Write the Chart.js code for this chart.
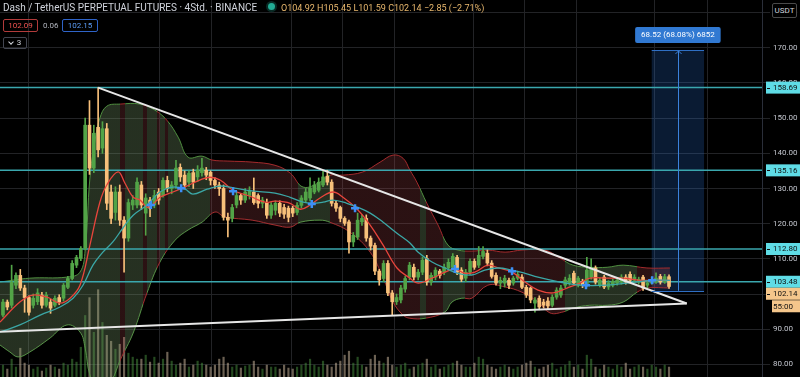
<!DOCTYPE html>
<html>
<head>
<meta charset="utf-8">
<script src="https://cdn.jsdelivr.net/npm/chart.js@4.4.1/dist/chart.umd.min.js"></script>
<style>
  html, body { margin: 0; padding: 0; background: #000; }
  #wrap { position: relative; width: 800px; height: 377px; overflow: hidden; font-family: Roboto, "Noto Sans", sans-serif; }
  #myChart { position: absolute; left: 0; top: 0; }
  .txt { position: absolute; white-space: nowrap; line-height: 12px; }
  .title { left: 3px; top: 2px; font-size: 10px; color: #d1d4dc; }
  .dot { position: absolute; left: 268px; top: 3px; width: 7px; height: 7px; border-radius: 50%; background: #22ab94; box-shadow: 0 0 0 2px rgba(34,171,148,0.25); }
  .ohlc { left: 281px; top: 2px; font-size: 9px; color: #e9b86e; }
  .tagbox { position: absolute; box-sizing: border-box; border-radius: 2px; font-size: 8px; line-height: 11px; text-align: center; }
  .red { left: 3px; top: 19px; width: 35px; height: 13px; border: 1px solid #b23b3b; color: #ef5350; }
  .blue { left: 62px; top: 19px; width: 36px; height: 13px; border: 1px solid #2f64c8; color: #5b9cf6; }
  .spread { left: 43px; top: 20px; font-size: 8px; color: #b2b5be; }
  .legend { left: 3px; top: 37px; width: 24px; height: 12px; border: 1px solid #434651; color: #d1d4dc; line-height: 10px; }
  .chev { display: inline-block; width: 3px; height: 3px; border-right: 1px solid #d1d4dc; border-bottom: 1px solid #d1d4dc; transform: rotate(45deg); margin: 0 4px 2px 0; vertical-align: middle; }
  .usdt { left: 772px; top: 3px; width: 25px; height: 15px; border: 1px solid #4a4a4a; color: #d1d4dc; background: #000; line-height: 13px; }
</style>
</head>
<body>
<div id="wrap">
  <canvas id="myChart" width="800" height="377"></canvas>
  <div class="txt title">Dash / TetherUS PERPETUAL FUTURES · 4Std. · BINANCE</div>
  <div class="dot"></div>
  <div class="txt ohlc">O104.92 H105.45 L101.59 C102.14 −2.85 (−2.71%)</div>
  <div class="tagbox red">102.09</div>
  <div class="txt spread">0.06</div>
  <div class="tagbox blue">102.15</div>
  <div class="tagbox legend"><span class="chev"></span>3</div>
  <div class="tagbox usdt">USDT</div>
</div>
<script>
// 4h candles, index 0 = first visible candle
const opens = [
  94.0, 97.7, 96.8, 102.5, 105.3, 101.7, 99.0, 96.8, 97.8, 99.7,
  96.8, 97.7, 96.8, 99.0, 98.8, 101.9, 104.4, 108.2, 110.1, 113.0,
  148.0, 135.8, 147.4, 141.5, 147.0, 129.0, 123.2, 129.0, 121.0, 115.9,
  125.3, 125.3, 131.0, 123.0, 126.7, 125.3, 129.0, 128.0, 132.3, 130.0,
  131.0, 136.0, 133.8, 131.8, 134.5, 133.3, 134.5, 135.2, 134.6, 132.3,
  131.0, 130.0, 121.8, 121.5, 125.3, 128.0, 126.7, 128.0, 129.0, 128.0,
  125.8, 126.0, 122.4, 123.8, 125.8, 124.6, 124.4, 124.4, 123.2, 125.2,
  126.7, 127.3, 129.0, 129.5, 131.0, 133.5, 131.8, 125.8, 124.6, 121.5,
  120.5, 114.8, 116.2, 120.5, 121.5, 115.9, 113.8, 106.5, 104.4, 108.7,
  100.3, 97.8, 98.3, 101.4, 104.8, 107.6, 104.8, 106.2, 110.1, 103.4,
  104.8, 106.5, 106.2, 107.4, 107.6, 110.4, 106.8, 104.5, 106.2, 109.3,
  108.2, 110.7, 111.6, 108.8, 105.3, 103.1, 103.1, 103.9, 103.1, 104.5,
  104.8, 101.9, 101.7, 97.4, 98.8, 97.7, 98.0, 96.8, 99.1, 99.7,
  102.5, 103.1, 105.9, 102.5, 103.6, 102.5, 104.8, 107.4, 102.5, 104.8,
  102.0, 102.5, 103.1, 103.4, 104.8, 105.6, 103.9, 103.4, 104.8, 102.5,
  103.1, 103.4, 105.0, 103.4, 104.92
]
const highs = [
  98.5, 98.3, 108.2, 106.0, 107.0, 102.5, 99.5, 100.0, 101.5, 100.5,
  100.5, 98.5, 99.5, 99.8, 103.0, 105.0, 109.5, 111.0, 113.5, 150.0,
  155.0, 148.0, 158.69, 149.0, 148.5, 131.0, 130.5, 131.0, 122.0, 127.0,
  128.0, 133.0, 132.0, 128.5, 127.5, 129.5, 130.0, 133.0, 133.5, 132.0,
  138.0, 137.0, 135.0, 135.0, 135.5, 136.5, 138.6, 136.0, 135.0, 133.0,
  131.8, 131.0, 123.0, 125.5, 129.0, 128.5, 130.0, 130.5, 133.0, 128.5,
  127.5, 127.0, 126.0, 126.5, 126.5, 125.5, 125.0, 125.0, 126.0, 128.0,
  130.0, 133.0, 132.0, 133.0, 135.0, 135.2, 132.5, 126.5, 125.0, 122.0,
  121.0, 117.5, 123.0, 122.5, 122.5, 116.5, 114.5, 107.0, 109.5, 109.5,
  101.0, 100.0, 102.5, 105.0, 109.0, 108.5, 107.0, 110.5, 111.0, 106.0,
  107.5, 107.0, 108.5, 110.0, 111.5, 111.0, 107.5, 107.0, 110.0, 110.0,
  113.5, 113.5, 112.5, 109.5, 106.0, 104.8, 105.3, 104.5, 105.0, 106.5,
  105.5, 102.5, 102.0, 99.0, 99.5, 98.5, 99.0, 99.8, 101.8, 102.5,
  104.8, 105.5, 106.5, 105.0, 104.2, 110.4, 110.0, 108.0, 104.5, 105.3,
  103.8, 104.2, 104.5, 105.5, 105.5, 106.3, 105.5, 104.8, 105.3, 103.9,
  104.8, 106.0, 105.6, 105.6, 105.45
]
const lows = [
  93.5, 95.5, 96.0, 101.5, 101.0, 94.8, 94.0, 96.0, 97.0, 96.0,
  96.3, 94.5, 96.3, 97.0, 98.0, 101.5, 104.0, 107.5, 109.5, 112.5,
  134.0, 134.5, 139.0, 140.0, 124.0, 120.0, 121.0, 119.5, 106.2, 115.0,
  124.0, 124.5, 124.0, 116.7, 122.0, 124.5, 125.5, 127.5, 129.0, 128.5,
  130.0, 132.0, 130.0, 130.5, 130.0, 132.0, 133.5, 132.5, 131.0, 130.0,
  128.0, 121.0, 116.2, 120.5, 124.5, 125.5, 126.0, 127.0, 125.5, 124.5,
  124.5, 121.5, 121.5, 122.5, 122.0, 121.5, 120.5, 122.0, 122.5, 124.5,
  126.0, 126.5, 128.5, 129.0, 130.5, 131.0, 125.0, 123.5, 120.5, 119.5,
  111.6, 113.5, 115.5, 119.5, 115.0, 112.5, 105.5, 102.5, 103.5, 99.5,
  94.0, 97.0, 97.5, 100.5, 104.0, 104.0, 104.0, 105.5, 102.5, 102.5,
  104.0, 104.5, 105.5, 106.8, 107.0, 105.5, 103.5, 103.5, 105.5, 107.0,
  107.5, 110.0, 108.0, 104.5, 102.5, 101.5, 102.0, 101.5, 102.5, 104.0,
  101.5, 99.0, 97.5, 94.8, 95.5, 96.0, 95.8, 96.3, 98.5, 99.0,
  101.8, 102.5, 102.5, 102.0, 101.8, 102.0, 104.2, 102.8, 102.0, 101.5,
  101.3, 102.0, 102.5, 102.8, 102.8, 103.3, 103.3, 102.8, 101.0, 101.8,
  102.8, 103.0, 102.8, 103.0, 101.59
]
const closes = [
  97.7, 96.3, 103.4, 105.3, 101.7, 99.0, 94.8, 98.8, 100.3, 96.8,
  99.7, 96.0, 98.8, 97.7, 102.5, 104.4, 108.7, 110.4, 113.0, 148.0,
  135.8, 145.7, 141.0, 147.0, 125.8, 121.5, 129.0, 121.0, 115.9, 126.0,
  126.7, 131.8, 125.3, 127.3, 124.4, 128.0, 126.7, 132.3, 130.0, 131.0,
  135.8, 133.3, 131.0, 134.3, 131.8, 135.2, 135.8, 133.8, 132.3, 131.0,
  130.0, 121.8, 121.0, 124.6, 128.0, 126.7, 129.0, 129.5, 126.0, 125.8,
  126.7, 122.4, 125.3, 125.8, 123.0, 122.7, 121.8, 123.0, 125.2, 127.3,
  129.0, 130.1, 131.0, 131.8, 133.3, 131.8, 125.8, 124.4, 121.5, 120.1,
  114.8, 116.7, 121.0, 121.5, 115.9, 113.6, 106.5, 104.0, 108.7, 100.3,
  97.8, 99.0, 101.7, 104.4, 108.2, 104.8, 106.2, 109.6, 103.4, 105.3,
  106.8, 105.3, 107.6, 109.0, 110.7, 106.2, 104.2, 106.2, 109.3, 107.6,
  111.0, 112.1, 108.8, 105.0, 103.1, 103.9, 104.5, 102.5, 104.5, 105.6,
  101.9, 99.7, 98.3, 98.3, 96.3, 96.8, 96.6, 99.1, 101.1, 101.7,
  104.0, 104.5, 103.1, 104.5, 102.5, 106.8, 107.4, 103.4, 103.9, 102.0,
  103.1, 103.6, 103.9, 104.8, 103.4, 103.9, 104.8, 104.2, 101.7, 103.1,
  103.9, 104.5, 103.4, 104.92, 102.14
]
const volumes = [
  12, 8, 18, 10, 29, 14, 12, 8, 10, 6, 9, 12, 10, 8, 14, 12, 18, 15,
  30, 62, 80, 45, 88, 55, 42, 36, 28, 33, 40, 24, 20, 18,
  18, 22, 15, 20, 14, 18, 25, 16, 12, 14, 18, 10, 12, 16, 14, 12, 10, 12, 18, 20, 14, 10, 12, 9, 11, 12, 16, 10, 8, 12, 10,
  10, 8, 12, 9, 8, 10, 12, 14, 18, 12, 10, 16, 12, 10, 14, 16, 22, 26, 14, 20, 12, 10, 18, 22, 16, 14, 20, 12, 10, 12, 14,
  8, 10, 12, 14, 18, 10, 12, 8, 10, 12, 14, 16, 12, 10, 10, 14, 20, 18, 12, 10, 8, 10, 12, 10, 8, 10, 12, 14, 16, 10, 8,
  10, 12, 14, 8, 10, 12, 16, 10, 12, 8, 22, 18, 10, 8, 12, 10, 8, 12, 10, 14, 8, 10, 12, 10, 8, 12, 10, 8, 12, 10
]

// indicator readings: [candle index, price]
const upperBand = [
  [-0.69, 103.4], [6.2, 104.5], [14.8, 104.8], [17.8, 106.2], [19.0, 112.5], [20.1, 133.0],
  [21.3, 143.8], [22.4, 150.0], [24.0, 153.4], [27.1, 154.0], [31.7, 154.0], [35.1, 152.3],
  [37.9, 149.4], [40.5, 144.6], [42.8, 138.9], [46.0, 139.2], [48.3, 138.1], [52.0, 137.8],
  [57.6, 137.5], [62.9, 136.6], [66.4, 134.4], [69.4, 130.4], [73.3, 131.8], [75.6, 133.8],
  [78.6, 133.8], [83.2, 134.7], [87.2, 137.5], [90.2, 139.5], [92.5, 138.6], [94.1, 135.2],
  [95.7, 131.8], [98.0, 125.8], [100.6, 119.6], [102.9, 113.9], [105.2, 112.5], [108.4, 112.2],
  [112.1, 112.5], [116.1, 111.9], [120.0, 112.5], [125.3, 112.5], [128.8, 110.2], [131.8, 108.2],
  [135.7, 107.6], [139.7, 107.6], [143.4, 108.2], [148.9, 107.4], [154.2, 107.4]
]
const lowerBand = [
  [-0.69, 85.5], [1.6, 83.5], [3.5, 82.1], [6.2, 83.5], [10.9, 87.5], [14.8, 91.2],
  [17.8, 89.2], [19.0, 84.6], [20.1, 76.9], [22.4, 71.3], [25.2, 75.5], [27.1, 81.2],
  [30.1, 88.9], [33.3, 100.3], [36.3, 109.1], [39.8, 115.3], [42.8, 118.2], [46.0, 120.4],
  [49.0, 123.3], [51.3, 121.9], [57.6, 121.0], [62.9, 119.6], [66.4, 119.0], [68.7, 120.4],
  [73.3, 121.0], [75.6, 120.4], [80.2, 117.6], [84.9, 111.9], [87.9, 104.5], [90.2, 97.7],
  [92.5, 94.0], [94.1, 93.1], [97.6, 93.1], [102.2, 94.9], [103.8, 97.7], [106.1, 98.8],
  [108.4, 98.8], [112.1, 102.5], [116.1, 102.0], [120.0, 100.5], [123.7, 97.7], [126.5, 94.6],
  [129.5, 94.9], [131.8, 96.0], [135.7, 96.8], [139.7, 96.8], [143.4, 97.7], [146.6, 100.5],
  [148.9, 101.7], [154.2, 101.7]
]
const fastMa = [
  [-0.69, 92.0], [3.9, 97.7], [6.9, 99.7], [10.2, 99.1], [13.2, 97.4], [15.5, 98.8],
  [17.8, 102.5], [20.1, 113.9], [22.4, 126.1], [24.0, 131.0], [26.6, 134.7], [28.2, 131.5],
  [30.1, 127.5], [31.7, 126.7], [33.3, 124.7], [34.5, 125.3], [36.3, 127.5], [39.3, 129.0],
  [42.5, 130.7], [45.5, 132.4], [47.9, 133.2], [50.2, 132.4], [53.2, 129.5], [57.1, 127.8],
  [60.6, 126.1], [62.9, 126.4], [66.4, 125.8], [68.7, 124.1], [71.0, 125.3], [73.3, 127.3],
  [76.3, 129.0], [78.6, 127.5], [81.9, 124.1], [84.9, 119.6], [87.9, 113.9], [91.1, 107.4],
  [94.1, 104.5], [96.0, 103.1], [99.2, 104.5], [102.2, 106.2], [104.5, 107.1], [106.8, 105.9],
  [109.1, 106.2], [112.1, 108.2], [114.5, 107.4], [117.7, 106.2], [120.7, 103.4], [123.7, 101.1],
  [127.2, 100.3], [130.4, 101.7], [133.4, 103.1], [135.7, 104.5], [139.7, 104.5], [143.4, 104.5],
  [147.3, 103.9], [154.2, 103.9]
]
const slowMa = [
  [-0.69, 89.2], [3.9, 91.2], [8.6, 94.0], [13.2, 96.3], [16.2, 98.8], [18.5, 102.5],
  [20.8, 108.2], [23.1, 111.9], [25.4, 114.8], [27.7, 118.7], [30.1, 122.4], [33.3, 125.3],
  [36.3, 129.0], [39.3, 130.4], [42.1, 129.8], [43.9, 128.4], [47.2, 129.8], [50.2, 130.7],
  [53.6, 130.1], [57.6, 129.3], [62.9, 128.7], [66.4, 127.5], [69.4, 126.1], [71.4, 125.8],
  [74.0, 126.1], [76.3, 126.7], [79.5, 125.8], [81.9, 124.7], [84.9, 123.0], [87.9, 120.4],
  [91.1, 117.3], [94.1, 114.5], [96.0, 111.9], [99.2, 109.1], [102.2, 107.4], [105.2, 105.9],
  [108.4, 105.4], [111.4, 106.8], [114.5, 107.4], [117.7, 106.8], [120.7, 105.9], [123.7, 104.8],
  [128.8, 103.4], [133.4, 102.5], [139.7, 102.5], [144.3, 103.1], [150.1, 103.9], [154.2, 103.9]
]
const crosses = [
  [34.2, 125.3], [41.2, 130.1], [53.2, 129.2], [71.4, 125.6], [81.4, 124.4],
  [104.5, 107.1], [117.7, 106.5], [134.8, 102.5], [150.1, 103.9]
]
// band colour by stretch: [from index, to index, rising]
const bandTrend = [
  [-0.69, 27.05, true], [27.05, 28.2, false], [28.2, 32.4, true], [32.4, 33.3, false],
  [33.3, 35.6, true], [35.6, 36.3, false], [36.3, 37.5, true], [37.5, 38.2, false],
  [38.2, 47.9, true], [47.9, 68.2, false], [68.2, 75.6, true], [75.6, 96.4, false],
  [96.4, 97.8, true], [97.8, 101.7, false], [101.7, 106.8, true], [106.8, 129.9, false],
  [129.9, 146.6, true], [146.6, 175.5, false]
]

const levels = [158.69, 135.16, 112.80, 103.48]
const lastPrice = 102.14
const countdown = "55:00"
const trendUpper = [[22, 158.69], [158.1, 97.3]]
const trendLower = [[-0.69, 89.25], [158.1, 97.3]]
const measureX = [150.0, 162.1]
const measureY = [100.9, 169.4]
const measureLabel = "68.52 (68.08%) 6852"
const dayTicks = [6.0, 36.3, 48.3, 66.6, 78.6, 90.6, 108.7, 120.7, 132.7, 150.7, 162.8]
const priceTicks = [80, 90, 100, 110, 120, 130, 140, 150, 160, 170, 180]

const X_MIN = -0.69
const X_MAX = 175.5
const GREEN = "#52a447"
const ORANGE = "#f8c07a"

const pts = arr => arr.map(p => ({ x: p[0], y: p[1] }))
const isUp = i => closes[i] >= opens[i]

function bandPaint(chart, fill) {
  const area = chart.chartArea
  const xs = chart.scales.x
  const upC = fill ? "rgba(125,160,110,0.30)" : "#4f8f3f"
  const dnC = fill ? "rgba(170,70,75,0.25)" : "#a3292b"
  if (!area || !xs) return upC
  const g = chart.ctx.createLinearGradient(area.left, 0, area.right, 0)
  const pos = v => Math.min(1, Math.max(0, (xs.getPixelForValue(v) - area.left) / area.width))
  bandTrend.forEach(([a, b, rising]) => {
    const c = rising ? upC : dnC
    g.addColorStop(pos(a), c)
    g.addColorStop(pos(b), c)
  })
  return g
}

const overlay = {
  id: "overlay",
  beforeDatasetsDraw(chart) {
    const { ctx, scales: { x, y } } = chart
    const l = x.getPixelForValue(measureX[0])
    const r = x.getPixelForValue(measureX[1])
    const t = y.getPixelForValue(measureY[1])
    const b = y.getPixelForValue(measureY[0])
    ctx.save()
    ctx.fillStyle = "rgba(45,125,230,0.22)"
    ctx.fillRect(l, t, r - l, b - t)
    ctx.restore()
  },
  afterDatasetsDraw(chart) {
    const { ctx, scales: { x, y } } = chart
    const l = x.getPixelForValue(measureX[0])
    const r = x.getPixelForValue(measureX[1])
    const t = y.getPixelForValue(measureY[1])
    const b = y.getPixelForValue(measureY[0])
    const m = Math.round((l + r) / 2) + 0.5
    ctx.save()
    ctx.strokeStyle = "#2f6fc4"
    ctx.lineWidth = 1
    ctx.beginPath()
    ctx.moveTo(l, Math.round(t) + 0.5); ctx.lineTo(r, Math.round(t) + 0.5)
    ctx.moveTo(l, Math.round(b) + 0.5); ctx.lineTo(r, Math.round(b) + 0.5)
    ctx.stroke()
    ctx.strokeStyle = "#3b82dc"
    ctx.beginPath()
    ctx.moveTo(m, b); ctx.lineTo(m, t + 1)
    ctx.moveTo(m - 3, t + 4); ctx.lineTo(m, t + 1); ctx.lineTo(m + 3, t + 4)
    ctx.stroke()
    ctx.restore()
  },
  afterDraw(chart) {
    const { ctx, scales: { x, y } } = chart
    const l = x.getPixelForValue(measureX[0])
    const r = x.getPixelForValue(measureX[1])
    const t = y.getPixelForValue(measureY[1])
    const m = (l + r) / 2
    ctx.save()
    ctx.font = "8px Roboto"
    ctx.textBaseline = "middle"
    // measure label
    const w = ctx.measureText(measureLabel).width + 12
    ctx.fillStyle = "#3179d2"
    ctx.beginPath()
    ctx.roundRect(m - w / 2, t - 23, w, 16, 2)
    ctx.fill()
    ctx.fillStyle = "#ffffff"
    ctx.textAlign = "center"
    ctx.fillText(measureLabel, m, t - 14.5)
    // price tags on the axis
    ctx.textAlign = "left"
    const tag = (yc, text, bg, left) => {
      ctx.fillStyle = bg
      ctx.fillRect(left, yc - 6, 800 - left, 12)
      ctx.fillStyle = "#101010"
      if (left < 770) ctx.fillRect(767, Math.round(yc), 3, 1)
      ctx.fillText(text, 773, yc + 0.5)
    }
    levels.forEach(v => tag(y.getPixelForValue(v), v.toFixed(2), "#5fdce6", 766))
    const ly = Math.max(y.getPixelForValue(lastPrice), y.getPixelForValue(103.48) + 12)
    tag(ly, lastPrice.toFixed(2), "#f5c68b", 766)
    tag(ly + 12.5, countdown, "#f5c68b", 772)
    ctx.restore()
  }
}

const idx = closes.map((c, i) => i)

const ctx = document.getElementById("myChart").getContext("2d")
const myChart = new Chart(ctx, {
  type: "bar",
  data: {
    datasets: [
      {
        type: "line",
        data: pts(upperBand),
        borderColor: c => bandPaint(c.chart, false),
        backgroundColor: c => bandPaint(c.chart, true),
        borderWidth: 1,
        fill: "+1",
        tension: 0.4,
        pointRadius: 0,
        order: 9,
      },
      {
        type: "line",
        data: pts(lowerBand),
        borderColor: c => bandPaint(c.chart, false),
        borderWidth: 1,
        fill: false,
        tension: 0.4,
        pointRadius: 0,
        order: 9,
      },
      {
        type: "bar",
        yAxisID: "yv",
        data: idx.map(i => ({ x: i, y: volumes[i] })),
        backgroundColor: c => (isUp(c.dataIndex) ? "rgba(82,164,71,0.45)" : "rgba(240,215,185,0.45)"),
        barThickness: 1.5,
        grouped: false,
        order: 10,
      },
      ...levels.map(v => ({
        type: "line",
        data: [{ x: X_MIN, y: v }, { x: X_MAX, y: v }],
        borderColor: "#3aa7ae",
        borderWidth: 1.5,
        pointRadius: 0,
        order: 8,
      })),
      {
        type: "bar",
        data: idx.map(i => ({ x: i, y: [lows[i], highs[i]] })),
        backgroundColor: c => (isUp(c.dataIndex) ? GREEN : ORANGE),
        barThickness: 1,
        grouped: false,
        order: 4,
      },
      {
        type: "bar",
        data: idx.map(i => ({ x: i, y: [opens[i], closes[i]] })),
        backgroundColor: c => (isUp(c.dataIndex) ? GREEN : ORANGE),
        barThickness: 3,
        minBarLength: 1,
        grouped: false,
        order: 3,
      },
      {
        type: "line",
        data: pts(slowMa),
        borderColor: "#3ba7a6",
        borderWidth: 1.3,
        tension: 0.4,
        pointRadius: 0,
        order: 2,
      },
      {
        type: "line",
        data: pts(fastMa),
        borderColor: "#e8453c",
        borderWidth: 1.3,
        tension: 0.4,
        pointRadius: 0,
        order: 2,
      },
      {
        type: "line",
        data: pts(trendUpper),
        borderColor: "#e6e6e6",
        borderWidth: 2,
        pointRadius: 0,
        order: 1,
      },
      {
        type: "line",
        data: pts(trendLower),
        borderColor: "#e6e6e6",
        borderWidth: 2,
        pointRadius: 0,
        order: 1,
      },
      {
        type: "line",
        data: pts(crosses),
        showLine: false,
        pointStyle: "cross",
        pointRadius: 4,
        pointBorderWidth: 2.5,
        pointBorderColor: "#3d8ff5",
        order: 0,
      },
    ],
  },
  options: {
    responsive: false,
    animation: false,
    devicePixelRatio: 1,
    layout: { padding: 0, autoPadding: false },
    plugins: { legend: { display: false }, tooltip: { enabled: false } },
    scales: {
      x: {
        type: "linear",
        min: X_MIN,
        max: X_MAX,
        offset: false,
        afterBuildTicks: s => { s.ticks = dayTicks.map(v => ({ value: v })) },
        ticks: { display: false },
        grid: { color: "#222326", drawTicks: false, offset: false },
        border: { display: false },
      },
      y: {
        position: "right",
        min: 76.4,
        max: 183.6,
        beginAtZero: false,
        afterBuildTicks: s => { s.ticks = priceTicks.map(v => ({ value: v })) },
        afterFit: s => { s.width = 38; s.paddingTop = 0; s.paddingBottom = 0 },
        ticks: {
          autoSkip: false,
          color: "#c3c6ce",
          font: { size: 8, family: "Roboto" },
          padding: 3,
          callback: v => Number(v).toFixed(2),
        },
        grid: { color: "#222326", tickLength: 8 },
        border: { color: "#2a2e39" },
      },
      yv: { display: false, min: 0, max: 380 },
    },
  },
  plugins: [overlay],
})
</script>
</body>
</html>
